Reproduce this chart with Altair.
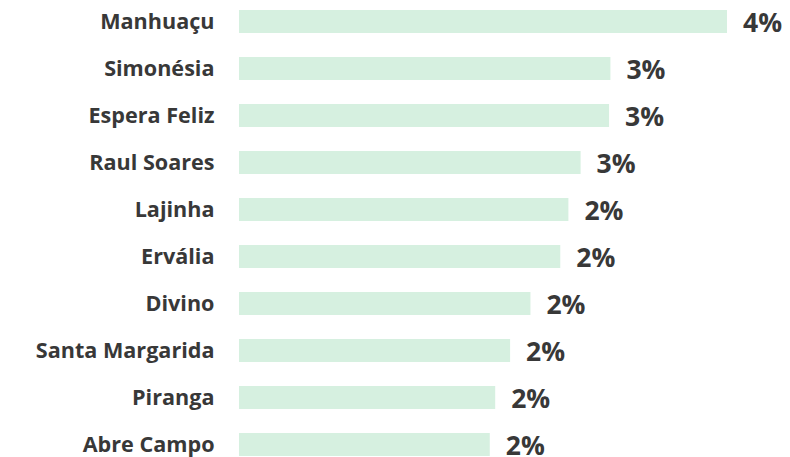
import altair as alt
import pandas as pd

cities = ["Manhuaçu", "Simonésia", "Espera Feliz", "Raul Soares", "Lajinha",
          "Ervália", "Divino", "Santa Margarida", "Piranga", "Abre Campo"]
shares = [0.0360, 0.0274, 0.0273, 0.0252, 0.0243,
          0.0237, 0.0215, 0.0200, 0.0189, 0.0185]

df = pd.DataFrame({"city": cities, "share": shares})

y = alt.Y(
    "city:N", sort=cities, title=None,
    scale=alt.Scale(paddingInner=24 / 47, paddingOuter=2 / 47),
    axis=alt.Axis(domain=False, ticks=False, tickSize=0, labelPadding=25,
                  labelOffset=1.5,
                  labelFontSize=21.6, labelFont="Open Sans", labelFontWeight="bold",
                  labelColor="#383838", labelLimit=400, grid=False),
)
x = alt.X("share:Q", scale=alt.Scale(domain=[0, 0.036], nice=False, zero=True), axis=None)

bars = alt.Chart(df).mark_bar(color="#d6f0e0").encode(x=x, y=y)
text = alt.Chart(df).mark_text(
    align="left", baseline="middle", dx=16, dy=2, font="Open Sans",
    fontSize=26.5, fontWeight="bold", color="#383838"
).encode(x=x, y=y, text=alt.Text("share:Q", format=".0%"))

chart = (bars + text).properties(
    width=488, height=450,
    autosize=alt.AutoSizeParams(type="none"),
    padding={"left": 231, "top": 0, "right": 55, "bottom": 0},
).configure_view(stroke=None)

chart.save("out.html", embed_options={"renderer": "svg", "actions": False})
